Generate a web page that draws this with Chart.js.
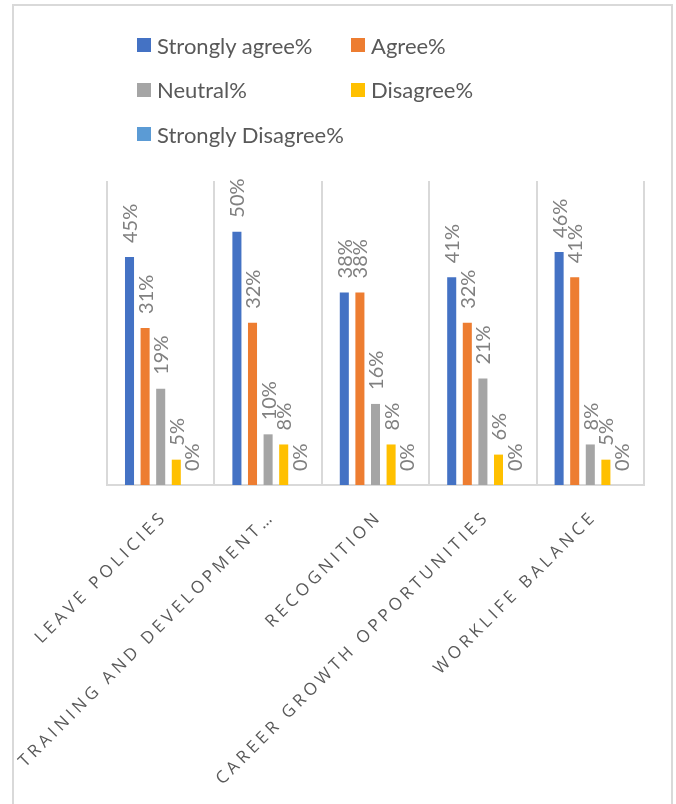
<!DOCTYPE html>
<html>
<head>
<meta charset="utf-8">
<title>Survey responses by factor</title>
<script src="https://cdn.jsdelivr.net/npm/chart.js@4.4.1/dist/chart.umd.min.js"></script>
<style>
  html, body { margin: 0; padding: 0; background: #fff; }
  #stage { position: relative; width: 676px; height: 804px; overflow: hidden; }
  #frame {
    position: absolute; left: 12px; top: 4px; width: 661px; height: 820px;
    border: 2px solid #d9d9d9; border-bottom: none; box-sizing: border-box;
  }
  #chart { position: absolute; left: 0; top: 0; }
  .legend-item {
    position: absolute; display: flex; align-items: center; height: 24px;
    font-family: Lato, "Open Sans", sans-serif; font-size: 22px; color: #595959;
    white-space: nowrap;
  }
  .legend-item .swatch { width: 14px; height: 14px; margin-right: 6px; flex: none; }
</style>
</head>
<body>
<div id="stage">
  <div id="frame"></div>
  <canvas id="chart" width="676" height="804"></canvas>
</div>
<script>
// Categories and response shares (fractions of respondents)
const categories = [
  'Leave Policies',
  'Training and Development\u2026',
  'Recognition',
  'Career Growth Opportunities',
  'Worklife Balance'
];
const seriesNames = ['Strongly agree%', 'Agree%', 'Neutral%', 'Disagree%', 'Strongly Disagree%'];
const stronglyAgree    = [0.45, 0.50, 0.38, 0.41, 0.46];
const agree            = [0.31, 0.32, 0.38, 0.32, 0.41];
const neutral          = [0.19, 0.10, 0.16, 0.21, 0.08];
const disagree         = [0.05, 0.08, 0.08, 0.06, 0.05];
const stronglyDisagree = [0.00, 0.00, 0.00, 0.00, 0.00];
const valueAxisMin = 0;
const valueAxisMax = 0.6;

const seriesColors = ['#4472C4', '#ED7D31', '#A5A5A5', '#FFC000', '#5B9BD5'];
const seriesValues = [stronglyAgree, agree, neutral, disagree, stronglyDisagree];

// Vertical percentage labels above each bar
const valueLabels = {
  id: 'valueLabels',
  afterDatasetsDraw(chart) {
    const ctx = chart.ctx;
    ctx.save();
    ctx.font = '20px Lato, "Open Sans", sans-serif';
    ctx.fillStyle = '#808080';
    ctx.textAlign = 'left';
    ctx.textBaseline = 'middle';
    chart.data.datasets.forEach((ds, di) => {
      const meta = chart.getDatasetMeta(di);
      meta.data.forEach((bar, i) => {
        const v = ds.data[i];
        ctx.save();
        ctx.translate(bar.x + 1, bar.y - 14);
        ctx.rotate(-Math.PI / 2);
        ctx.fillText(Math.round(v * 100) + '%', 0, 0);
        ctx.restore();
      });
    });
    ctx.restore();
  }
};

// Slanted, letter-spaced category names under the axis
const slantedCategoryLabels = {
  id: 'slantedCategoryLabels',
  afterDraw(chart) {
    const ctx = chart.ctx;
    const xs = chart.scales.x;
    ctx.save();
    ctx.font = '17px "Open Sans", sans-serif';
    ctx.letterSpacing = '3.9px';
    ctx.fillStyle = '#595959';
    ctx.textAlign = 'right';
    ctx.textBaseline = 'middle';
    chart.data.labels.forEach((label, i) => {
      const x = xs.getPixelForValue(i);
      ctx.save();
      ctx.translate(x + 4, xs.bottom + 29);
      ctx.rotate(-Math.PI / 4);
      ctx.fillText(label.toUpperCase(), 0, 0);
      ctx.restore();
    });
    ctx.restore();
  }
};

const chart = new Chart(document.getElementById('chart'), {
  type: 'bar',
  data: {
    labels: categories,
    datasets: seriesNames.map((name, k) => ({
      label: name,
      data: seriesValues[k],
      backgroundColor: seriesColors[k],
      borderWidth: 0,
      barPercentage: 0.58,
      categoryPercentage: 0.726
    }))
  },
  options: {
    responsive: false,
    animation: false,
    layout: { padding: { left: 107, right: 32, top: 181, bottom: 319 } },
    plugins: {
      legend: { display: false },
      tooltip: { enabled: false }
    },
    scales: {
      x: {
        offset: true,
        grid: { offset: true, color: '#d9d9d9', lineWidth: 2, drawTicks: false },
        border: { display: true, color: '#d9d9d9', width: 2 },
        ticks: { display: false }
      },
      y: {
        display: false,
        min: valueAxisMin,
        max: valueAxisMax
      }
    }
  },
  plugins: [valueLabels, slantedCategoryLabels]
});

// Two-column legend built from the chart's datasets
const stage = document.getElementById('stage');
chart.data.datasets.forEach((ds, k) => {
  const item = document.createElement('div');
  item.className = 'legend-item';
  item.style.left = (137 + (k % 2) * 214) + 'px';
  item.style.top = (33 + Math.floor(k / 2) * 44.5) + 'px';
  const sw = document.createElement('span');
  sw.className = 'swatch';
  sw.style.background = ds.backgroundColor;
  const tx = document.createElement('span');
  tx.textContent = ds.label;
  item.appendChild(sw);
  item.appendChild(tx);
  stage.appendChild(item);
});
</script>
</body>
</html>
